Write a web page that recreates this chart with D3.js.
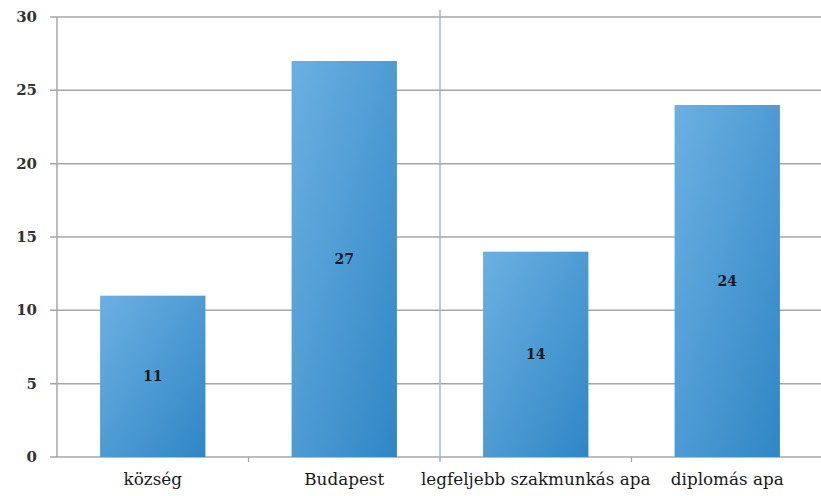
<!DOCTYPE html>
<html><head><meta charset="utf-8">
<script src="https://cdn.jsdelivr.net/npm/d3@7"></script>
<style>body{margin:0;background:#fff}svg{display:block}</style>
</head><body>
<svg id="c" width="821" height="496"></svg>
<script>
const categories = ["község", "Budapest", "legfeljebb szakmunkás apa", "diplomás apa"];
const values = [11, 27, 14, 24];
const yTicks = [0, 5, 10, 15, 20, 25, 30];
const dividerAfter = 1; // divider between 2nd and 3rd category

const FONT = "'DejaVu Serif', 'Liberation Serif', serif";
const svg = d3.select("#c");
const m = {l: 57, r: -2, t: 17, b: 39};
const W = 821, H = 496;
const x = d3.scaleBand().domain(categories).range([m.l, W - m.r]).paddingInner(0.45).paddingOuter(0.225);
const xb = d3.scaleBand().domain(categories).range([m.l, W - m.r]);
const y = d3.scaleLinear().domain([0, 30]).range([H - m.b, m.t]);

const defs = svg.append("defs");
const g = defs.append("linearGradient").attr("id", "bg").attr("x1", "0").attr("y1", "0").attr("x2", "1").attr("y2", "1");
g.append("stop").attr("offset", "0").attr("stop-color", "#6cb0e2");
g.append("stop").attr("offset", "1").attr("stop-color", "#2f86c5");

// grid
svg.append("g").selectAll("line").data(yTicks).join("line")
  .attr("x1", m.l - 7).attr("x2", W).attr("y1", d => y(d)).attr("y2", d => y(d))
  .attr("stroke", "#a6a6a6").attr("stroke-width", 1.5);

// y axis line
svg.append("line").attr("x1", m.l).attr("x2", m.l).attr("y1", y(30)).attr("y2", y(0))
  .attr("stroke", "#a6a6a6").attr("stroke-width", 1.5);

// y tick labels
svg.append("g").selectAll("text").data(yTicks).join("text")
  .attr("x", 37).attr("y", d => y(d) + 5).attr("text-anchor", "end")
  .style("font-family", FONT).attr("font-size", 15).attr("font-weight", "bold")
  .attr("fill", "#333").text(d => d);

// x ticks at boundaries
const bounds = categories.map(c => xb(c) + xb.bandwidth()).slice(0, -1);
svg.append("g").selectAll("line").data(bounds).join("line")
  .attr("x1", d => d).attr("x2", d => d).attr("y1", y(0)).attr("y2", y(0) + 5)
  .attr("stroke", "#a6a6a6").attr("stroke-width", 1.2);

// divider
const dx = xb(categories[dividerAfter]) + xb.bandwidth();
svg.append("line").attr("x1", dx).attr("x2", dx).attr("y1", 10).attr("y2", y(0) + 3)
  .attr("stroke", "#8fbde0").attr("stroke-width", 1.5);

// bars
svg.append("g").selectAll("rect").data(values).join("rect")
  .attr("x", (d, i) => x(categories[i])).attr("width", x.bandwidth())
  .attr("y", d => y(d)).attr("height", d => y(0) - y(d))
  .attr("fill", "url(#bg)");

// value labels
svg.append("g").selectAll("text").data(values).join("text")
  .attr("x", (d, i) => x(categories[i]) + x.bandwidth() / 2)
  .attr("y", d => (y(d) + y(0)) / 2 + 5)
  .attr("text-anchor", "middle")
  .style("font-family", FONT).attr("font-size", 14).attr("font-weight", "bold")
  .attr("fill", "#1a1a1a").text(d => d);

// category labels
svg.append("g").selectAll("text").data(categories).join("text")
  .attr("x", c => xb(c) + xb.bandwidth() / 2).attr("y", H - 11)
  .attr("text-anchor", "middle")
  .style("font-family", FONT).attr("font-size", 16.8)
  .attr("fill", "#1a1a1a").text(c => c);
</script>
</body></html>
